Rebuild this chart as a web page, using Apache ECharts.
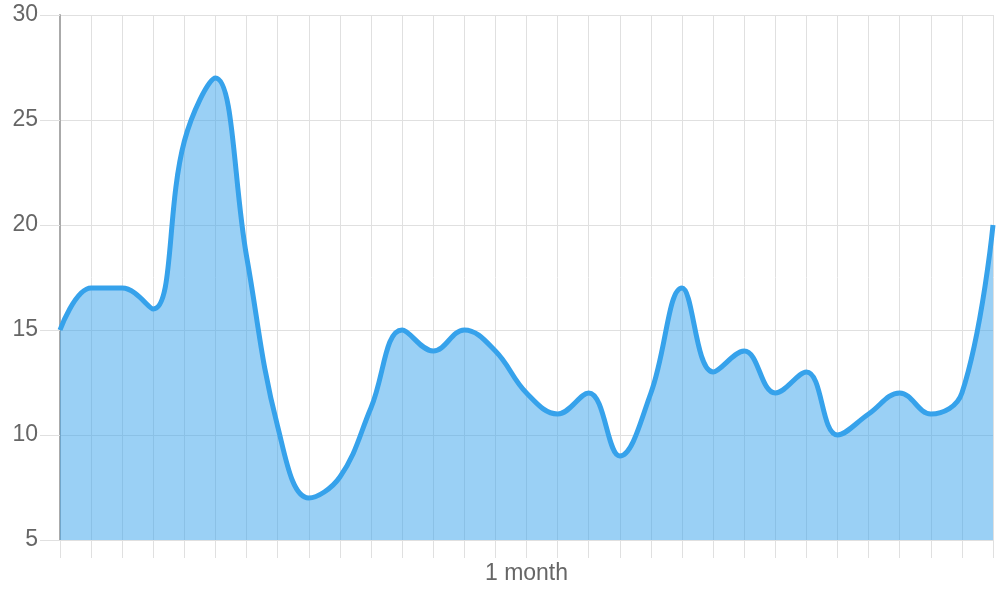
<!DOCTYPE html>
<html>
<head>
<meta charset="utf-8">
<title>1 month</title>
<script src="https://cdn.jsdelivr.net/npm/echarts@6/dist/echarts.min.js"></script>
<style>
  html, body { margin: 0; padding: 0; background: #fff; }
  #chart { width: 1000px; height: 600px; }
</style>
</head>
<body>
<div id="chart"></div>
<script>
// days of the month (labels hidden on the axis)
const days = ['1', '2', '3', '4', '5', '6', '7', '8', '9', '10', '11', '12', '13', '14', '15', '16',
  '17', '18', '19', '20', '21', '22', '23', '24', '25', '26', '27', '28', '29', '30', '31']

// values
const values = [15, 17, 17, 16, 24, 27, 18.5, 10.4, 7, 8, 11.3, 15, 14, 15, 14, 12,
  11, 12, 9, 12, 17, 13, 14, 12, 13, 10, 11, 12, 11, 12, 20]

const yTicks = { min: 5, max: 30, step: 5 }
const xName = '1 month'

const gridColor = '#e0e0e0'
const textColor = '#666'
const font = 'Liberation Sans, Arial, Helvetica, sans-serif'

const chart = echarts.init(document.getElementById('chart'))

chart.setOption({
  animation: false,
  grid: { left: 60, right: 7, top: 15, bottom: 60, containLabel: false },
  xAxis: {
    type: 'category',
    data: days,
    boundaryGap: false,
    name: xName,
    nameLocation: 'middle',
    nameGap: 22,
    nameTextStyle: { color: textColor, fontSize: 23, fontFamily: font },
    axisLine: { show: true, lineStyle: { color: gridColor, width: 1 } },
    axisTick: { show: true, length: 18, interval: 0, lineStyle: { color: gridColor } },
    axisLabel: { show: false },
    splitLine: { show: true, interval: 0, lineStyle: { color: gridColor } }
  },
  yAxis: {
    type: 'value',
    min: yTicks.min,
    max: yTicks.max,
    interval: yTicks.step,
    axisLine: { show: true, lineStyle: { color: '#aaa', width: 2 } },
    axisTick: { show: true, length: 20, lineStyle: { color: gridColor } },
    axisLabel: { color: textColor, fontSize: 23, fontFamily: font, margin: 22 },
    splitLine: { show: true, lineStyle: { color: gridColor } }
  },
  series: [
    {
      type: 'line',
      data: values,
      smooth: 0.4,
      showSymbol: false,
      lineStyle: { color: 'rgb(54, 162, 235)', width: 5 },
      itemStyle: { color: 'rgb(54, 162, 235)' },
      areaStyle: { color: 'rgba(54, 162, 235, 0.5)', opacity: 1, origin: 'start' }
    }
  ]
})
</script>
</body>
</html>
